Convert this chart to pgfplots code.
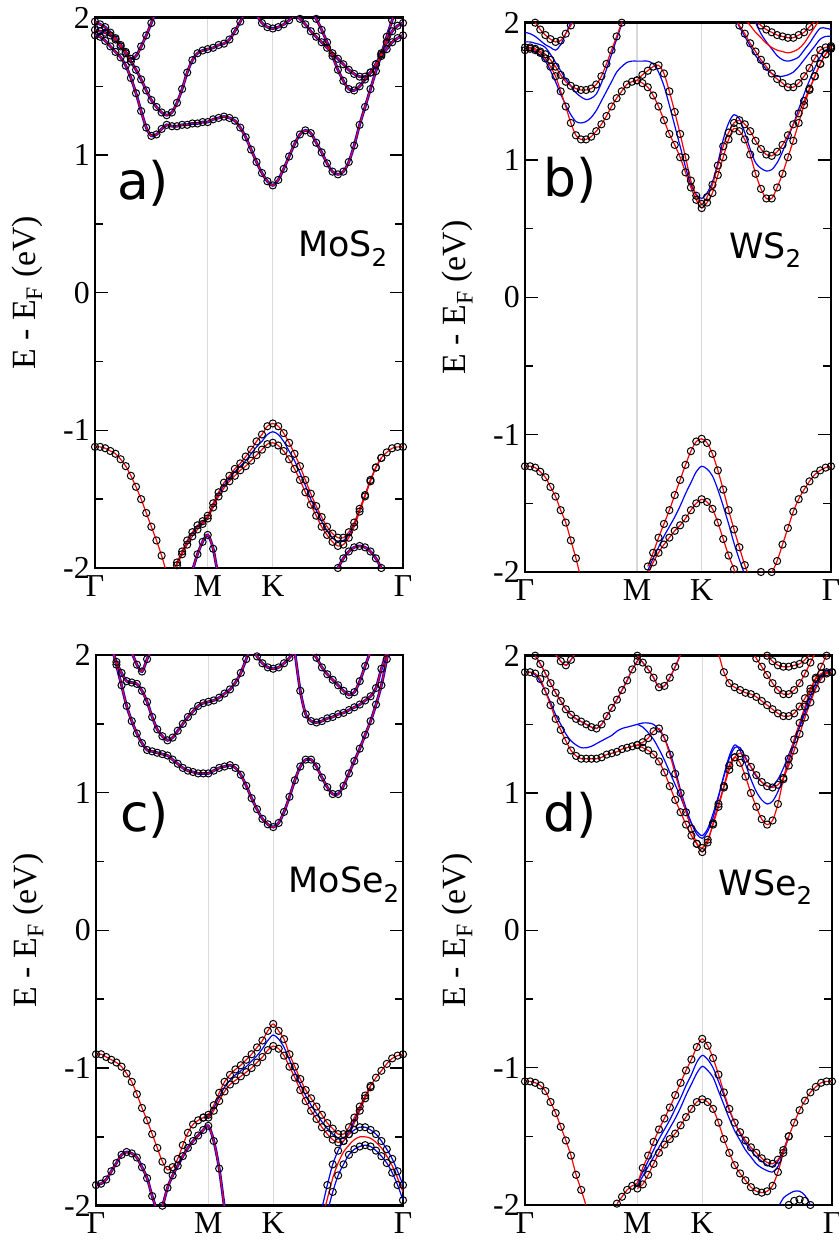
\documentclass[border=0pt]{standalone}
\usepackage{fontspec}
\setmainfont{Liberation Serif}
\newfontfamily\djv{DejaVu Sans}
\usepackage{pgfplots}
\usepackage{pgfplotstable}
\usetikzlibrary{calc}
\pgfplotsset{compat=1.18}

\pgfplotstableread{
f c1 c2 c3 c4 c5 c6 v1u v1d vb v3 v4
0.0000 1.87 1.91 1.97 nan nan nan -1.12 nan nan nan nan
0.0166 1.86 1.90 1.95 nan nan nan -1.12 nan nan nan nan
0.0333 1.83 1.89 1.93 nan nan nan -1.13 nan nan nan nan
0.0499 1.79 1.87 1.89 nan nan nan -1.15 nan nan nan nan
0.0665 1.75 1.84 1.85 nan nan nan -1.17 nan nan nan nan
0.0832 1.71 1.79 1.80 nan nan nan -1.21 nan nan nan nan
0.0998 1.65 1.74 1.75 nan nan nan -1.26 nan nan nan nan
0.1165 1.56 1.68 1.70 nan nan nan -1.33 nan nan nan nan
0.1331 1.45 1.62 1.72 nan nan nan -1.41 nan nan nan nan
0.1498 1.32 1.55 1.79 nan nan nan -1.50 nan nan nan nan
0.1664 1.20 1.47 1.87 nan nan nan -1.60 nan nan nan nan
0.1830 1.14 1.40 1.96 nan nan nan -1.70 nan nan nan nan
0.1996 1.15 1.35 2.05 nan nan nan -1.80 nan nan nan nan
0.2163 1.19 1.31 nan nan nan nan -1.91 nan nan nan nan
0.2329 1.22 1.29 nan nan nan nan -2.03 nan nan nan nan
0.2496 1.21 1.31 nan nan nan nan -2.06 nan nan nan nan
0.2662 1.21 1.38 nan nan nan nan -1.96 -1.98 -1.97 nan nan
0.2828 1.22 1.48 nan nan nan nan -1.88 -1.90 -1.89 nan nan
0.2994 1.22 1.60 nan nan nan nan -1.80 -1.83 -1.81 nan nan
0.3161 1.23 1.69 nan nan nan nan -1.74 -1.77 -1.75 -2.02 nan
0.3327 1.23 1.74 nan nan nan nan -1.69 -1.72 -1.70 -1.90 nan
0.3494 1.24 1.76 nan nan nan nan -1.66 -1.68 -1.67 -1.81 nan
0.3660 1.24 1.77 nan nan nan nan -1.62 -1.64 -1.63 -1.76 nan
0.3836 1.26 1.78 nan nan nan nan -1.53 -1.56 -1.54 -1.86 nan
0.4012 1.27 1.80 nan nan nan nan -1.45 -1.48 -1.46 -2.08 nan
0.4188 1.28 1.81 nan nan nan nan -1.38 -1.42 -1.40 nan nan
0.4364 1.27 1.84 nan nan nan nan -1.33 -1.37 -1.35 nan nan
0.4541 1.25 1.90 nan nan nan nan -1.28 -1.33 -1.30 nan nan
0.4717 1.20 1.97 nan nan nan nan -1.24 -1.29 -1.26 nan nan
0.4893 1.13 2.05 nan nan nan nan -1.19 -1.26 -1.22 nan nan
0.5069 1.04 2.15 nan 2.10 nan nan -1.14 -1.22 -1.17 nan nan
0.5245 0.95 nan nan 2.02 nan nan -1.08 -1.18 -1.12 nan nan
0.5421 0.87 nan nan 1.96 nan nan -1.03 -1.14 -1.08 nan nan
0.5597 0.81 nan nan 1.93 nan nan -0.97 -1.10 -1.03 nan nan
0.5773 0.78 nan nan 1.92 nan nan -0.95 -1.09 -1.01 nan nan
0.5949 0.82 nan nan 1.93 nan nan -0.97 -1.11 -1.03 nan nan
0.6125 0.90 nan nan 1.95 nan nan -1.02 -1.15 -1.08 nan nan
0.6302 0.99 nan nan 1.98 nan nan -1.09 -1.21 -1.15 nan nan
0.6478 1.08 nan nan 2.02 2.02 nan -1.17 -1.28 -1.22 nan nan
0.6654 1.15 nan nan 2.08 1.99 nan -1.26 -1.36 -1.31 nan nan
0.6830 1.18 nan nan nan 1.95 2.10 -1.36 -1.45 -1.40 nan nan
0.7006 1.16 nan nan nan 1.90 2.05 -1.46 -1.54 -1.50 nan nan
0.7182 1.09 nan nan nan 1.86 1.99 -1.55 -1.62 -1.58 nan nan
0.7359 1.02 nan nan nan 1.82 1.91 -1.63 -1.70 -1.66 nan nan
0.7535 0.94 nan nan nan 1.78 1.82 -1.70 -1.76 -1.73 nan nan
0.7711 0.88 nan nan nan 1.74 1.72 -1.75 -1.81 -1.78 nan nan
0.7887 0.86 nan nan nan 1.70 1.62 -1.78 -1.84 -1.81 nan -2.00
0.8063 0.88 nan nan nan 1.66 1.54 -1.78 -1.83 -1.80 nan -1.93
0.8239 0.95 nan nan nan 1.62 1.48 -1.74 -1.78 -1.76 nan -1.88
0.8415 1.07 nan nan nan 1.59 1.47 -1.67 -1.70 -1.68 nan -1.85
0.8591 1.22 nan nan nan 1.57 1.50 -1.57 -1.59 -1.58 nan -1.84
0.8768 1.35 nan nan nan 1.57 1.55 -1.47 -1.48 -1.47 nan -1.85
0.8944 1.48 nan nan nan 1.60 1.60 -1.36 -1.37 -1.36 nan -1.88
0.9120 1.61 nan nan nan 1.66 1.66 -1.27 -1.27 -1.27 nan -1.93
0.9296 1.73 nan nan nan 1.74 1.72 -1.20 -1.20 -1.20 nan -2.00
0.9472 1.86 nan nan nan 1.82 1.77 -1.16 nan nan nan nan
0.9648 1.98 nan nan nan 1.90 1.82 -1.13 nan nan nan nan
0.9824 2.10 nan nan nan 1.94 1.85 -1.12 nan nan nan nan
1.0000 2.20 nan nan nan 1.96 1.87 -1.12 nan nan nan nan
}\tA

\pgfplotstableread{
f c1 c1b c2 c3 c5 c6 c7 bc1 bc2 bc3 bc5 bc6 vu vd bvb
0.0000 1.80 nan 1.82 nan nan nan nan 1.80 1.86 1.93 nan nan -1.23 nan nan
0.0166 1.81 nan 1.82 nan nan nan nan 1.80 1.86 1.92 nan nan -1.23 nan nan
0.0333 1.80 nan 1.81 2.00 nan nan nan 1.79 1.85 1.90 nan nan -1.24 nan nan
0.0499 1.78 nan 1.79 1.95 nan nan nan 1.76 1.84 1.87 nan nan -1.27 nan nan
0.0665 1.74 nan 1.77 1.91 nan nan nan 1.72 1.82 1.84 nan nan -1.31 nan nan
0.0832 1.68 nan 1.73 1.88 nan nan nan 1.65 1.77 1.82 nan nan -1.38 nan nan
0.0998 1.61 nan 1.68 1.86 nan nan nan 1.57 1.71 1.80 nan nan -1.45 nan nan
0.1165 1.50 nan 1.62 1.87 nan nan nan 1.48 1.65 1.84 nan nan -1.55 nan nan
0.1331 1.39 nan 1.57 1.92 nan nan nan 1.40 1.59 1.92 nan nan -1.64 nan nan
0.1498 1.27 nan 1.54 1.98 nan nan nan 1.33 1.54 2.00 nan nan -1.77 nan nan
0.1664 1.18 nan 1.52 2.05 nan nan nan 1.28 1.49 2.08 nan nan -1.90 nan nan
0.1830 1.15 nan 1.51 nan nan nan nan 1.27 1.46 nan nan nan -2.05 nan nan
0.1996 1.15 nan 1.51 nan nan nan nan 1.28 1.44 nan nan nan nan nan nan
0.2163 1.17 nan 1.52 nan nan nan nan 1.31 1.45 nan nan nan nan nan nan
0.2329 1.21 nan 1.55 nan nan nan nan 1.36 1.48 nan nan nan nan nan nan
0.2496 1.26 nan 1.61 nan nan nan nan 1.43 1.56 nan nan nan nan nan nan
0.2662 1.32 nan 1.70 nan nan nan nan 1.50 1.66 nan nan nan nan nan nan
0.2828 1.39 nan 1.80 nan nan nan nan 1.57 1.77 nan nan nan nan nan nan
0.2994 1.45 nan 1.90 nan nan nan nan 1.64 1.88 nan nan nan nan nan nan
0.3161 1.50 nan 2.00 nan nan nan nan 1.68 1.99 nan nan nan nan nan nan
0.3327 1.55 nan 2.10 nan nan nan nan 1.71 2.10 nan nan nan nan nan nan
0.3494 1.57 nan nan nan nan nan nan 1.72 nan nan nan nan nan nan nan
0.3660 1.58 1.58 nan nan nan nan nan 1.72 nan nan nan nan nan nan nan
0.3836 1.56 1.62 nan nan nan nan nan 1.72 nan nan nan nan nan nan nan
0.4012 1.53 1.65 nan nan nan nan nan 1.72 nan nan nan nan -1.96 -2.02 -1.99
0.4188 1.47 1.68 nan nan nan nan nan 1.70 nan nan nan nan -1.86 -1.93 -1.90
0.4364 1.39 1.69 nan nan nan nan nan 1.64 nan nan nan nan -1.75 -1.86 -1.82
0.4541 1.29 1.63 nan nan nan nan nan 1.54 nan nan nan nan -1.65 -1.80 -1.74
0.4717 1.19 1.50 nan nan nan nan nan 1.40 nan nan nan nan -1.55 -1.75 -1.67
0.4893 1.11 1.35 nan nan nan nan nan 1.25 nan nan nan nan -1.44 -1.70 -1.60
0.5069 1.02 1.19 nan nan nan nan nan 1.10 nan nan nan nan -1.33 -1.66 -1.52
0.5245 0.91 1.02 nan nan nan nan nan 0.95 nan nan nan nan -1.22 -1.61 -1.43
0.5421 0.80 0.85 nan nan nan nan nan 0.82 nan nan nan nan -1.12 -1.55 -1.35
0.5597 0.71 0.74 nan nan nan nan nan 0.75 nan nan nan nan -1.05 -1.50 -1.27
0.5773 0.65 0.68 nan nan nan nan nan 0.72 nan nan nan nan -1.03 -1.47 -1.23
0.5949 0.69 0.73 nan nan nan nan nan 0.76 nan nan nan nan -1.06 -1.49 -1.25
0.6125 0.76 0.82 nan nan nan nan nan 0.84 nan nan nan nan -1.14 -1.54 -1.30
0.6302 0.89 0.96 nan nan nan nan nan 0.98 nan nan nan nan -1.26 -1.64 -1.40
0.6478 1.02 1.10 nan nan nan nan nan 1.15 nan nan nan nan -1.40 -1.76 -1.52
0.6654 1.15 1.20 nan nan nan nan nan 1.27 nan nan nan nan -1.55 -1.88 -1.65
0.6830 1.23 1.27 nan nan 2.05 nan nan 1.33 nan nan 2.05 nan -1.69 -1.98 -1.79
0.7006 1.21 1.29 nan nan 1.98 nan nan 1.30 nan nan 1.97 nan -1.82 -2.10 -1.91
0.7182 1.15 1.26 nan nan 1.92 nan 2.03 1.20 nan nan 1.90 nan -1.95 nan -2.02
0.7359 1.04 1.21 nan nan 1.85 nan 1.98 1.08 nan nan 1.83 nan -2.04 nan nan
0.7535 0.90 1.14 nan nan 1.79 2.02 1.93 0.98 nan nan 1.76 2.00 -2.03 nan nan
0.7711 0.79 1.08 nan nan 1.73 1.98 1.89 0.94 nan nan 1.71 1.92 -2.00 nan nan
0.7887 0.72 1.04 nan nan 1.68 1.95 1.85 0.92 nan nan 1.66 1.86 -2.01 nan nan
0.8063 0.72 1.03 nan nan 1.63 1.93 1.82 0.93 nan nan 1.63 1.81 -2.00 nan nan
0.8239 0.80 1.06 nan nan 1.59 1.91 1.80 0.98 nan nan 1.61 1.76 -1.92 nan nan
0.8415 0.90 1.11 nan nan 1.56 1.90 1.79 1.06 nan nan 1.61 1.73 -1.80 nan nan
0.8591 1.02 1.18 nan nan 1.53 1.89 1.78 1.16 nan nan 1.62 1.72 -1.68 nan nan
0.8768 1.14 1.26 nan nan 1.53 1.89 1.79 1.26 nan nan 1.64 1.73 -1.56 nan nan
0.8944 1.27 1.34 nan nan 1.56 1.91 1.81 1.37 nan nan 1.68 1.75 -1.47 nan nan
0.9120 1.40 1.43 nan nan 1.61 1.93 1.85 1.48 nan nan 1.73 1.80 -1.40 nan nan
0.9296 1.51 1.52 nan nan 1.67 1.97 1.91 1.58 nan nan 1.78 1.85 -1.34 nan nan
0.9472 1.61 1.61 nan nan 1.74 2.01 1.97 1.67 nan nan 1.83 1.91 -1.29 nan nan
0.9648 1.70 1.70 nan nan 1.80 2.05 2.03 1.75 nan nan 1.88 1.96 -1.26 nan nan
0.9824 1.77 1.77 nan nan 1.82 nan nan 1.80 nan nan 1.90 1.96 -1.24 nan nan
1.0000 1.81 1.82 nan nan 1.83 nan nan 1.82 nan nan 1.90 1.95 -1.23 nan nan
}\tB

\pgfplotstableread{
f c1 c2 c3 c4 c5 c6 v1u v1d vb v2 v4u v4d v4m
0.0000 nan nan nan nan nan nan -0.90 nan nan -1.85 nan nan nan
0.0166 nan nan nan nan nan nan -0.90 nan nan -1.84 nan nan nan
0.0333 nan nan nan nan nan nan -0.92 nan nan -1.81 nan nan nan
0.0499 2.08 2.05 nan nan nan nan -0.94 nan nan -1.75 nan nan nan
0.0665 1.93 1.95 nan nan nan nan -0.96 nan nan -1.69 nan nan nan
0.0832 1.78 1.87 nan nan nan nan -0.99 nan nan -1.63 nan nan nan
0.0998 1.63 1.81 nan nan nan nan -1.04 nan nan -1.61 nan nan nan
0.1165 1.52 1.80 2.02 nan nan nan -1.10 nan nan -1.62 nan nan nan
0.1331 1.43 1.79 1.93 nan nan nan -1.19 nan nan -1.65 nan nan nan
0.1498 1.36 1.74 1.88 nan nan nan -1.29 nan nan -1.72 nan nan nan
0.1664 1.31 1.66 1.97 nan nan nan -1.38 nan nan -1.80 nan nan nan
0.1830 1.30 1.55 2.05 nan nan nan -1.48 nan nan -1.93 nan nan nan
0.1996 1.29 1.46 nan nan nan nan -1.58 nan nan -2.03 nan nan nan
0.2163 1.28 1.41 nan nan nan nan -1.68 nan nan -2.00 nan nan nan
0.2329 1.27 1.38 nan nan nan nan -1.74 nan nan -1.87 nan nan nan
0.2496 1.24 1.40 nan nan nan nan -1.72 nan nan -1.78 nan nan nan
0.2662 1.21 1.45 nan nan nan nan -1.66 nan nan -1.71 nan nan nan
0.2828 1.18 1.50 nan nan nan nan -1.56 nan nan -1.64 nan nan nan
0.2994 1.16 1.55 nan nan nan nan -1.47 nan nan -1.58 nan nan nan
0.3161 1.15 1.59 nan nan nan nan -1.41 nan nan -1.53 nan nan nan
0.3327 1.14 1.63 nan nan nan nan -1.38 nan nan -1.49 nan nan nan
0.3494 1.14 1.65 nan nan nan nan -1.36 -1.36 -1.36 -1.45 nan nan nan
0.3660 1.14 1.66 nan nan nan nan -1.34 -1.36 -1.35 -1.42 nan nan nan
0.3836 1.16 1.67 nan nan nan nan -1.27 -1.31 -1.29 -1.53 nan nan nan
0.4012 1.18 1.69 nan nan nan nan -1.18 -1.24 -1.21 -1.73 nan nan nan
0.4188 1.19 1.72 nan nan nan nan -1.10 -1.17 -1.14 -2.02 nan nan nan
0.4364 1.20 1.75 nan nan nan nan -1.05 -1.12 -1.09 -2.30 nan nan nan
0.4541 1.18 1.80 nan nan nan nan -1.01 -1.09 -1.05 nan nan nan nan
0.4717 1.13 1.87 nan nan nan nan -0.98 -1.06 -1.02 nan nan nan nan
0.4893 1.05 1.97 nan nan nan nan -0.94 -1.03 -0.99 nan nan nan nan
0.5069 0.96 2.08 nan 2.05 nan nan -0.90 -1.00 -0.95 nan nan nan nan
0.5245 0.88 nan nan 1.99 nan nan -0.85 -0.96 -0.91 nan nan nan nan
0.5421 0.81 nan nan 1.94 nan nan -0.80 -0.92 -0.86 nan nan nan nan
0.5597 0.77 nan nan 1.91 nan nan -0.73 -0.87 -0.80 nan nan nan nan
0.5773 0.75 nan nan 1.90 nan nan -0.68 -0.84 -0.76 nan nan nan nan
0.5949 0.78 nan nan 1.91 nan nan -0.73 -0.86 -0.79 nan nan nan nan
0.6125 0.86 nan nan 1.94 nan nan -0.79 -0.91 -0.85 nan nan nan nan
0.6302 0.97 nan nan 1.98 nan nan -0.90 -0.99 -0.94 nan nan nan nan
0.6478 1.09 nan nan 2.03 2.02 nan -0.99 -1.07 -1.03 nan nan nan nan
0.6654 1.19 nan nan nan 1.74 nan -1.08 -1.16 -1.12 nan nan nan nan
0.6830 1.24 nan nan nan 1.57 nan -1.16 -1.24 -1.20 nan nan nan nan
0.7006 1.24 nan nan nan 1.52 2.03 -1.22 -1.31 -1.27 nan nan nan nan
0.7182 1.19 nan nan nan 1.51 1.98 -1.28 -1.37 -1.33 nan nan nan nan
0.7359 1.11 nan nan nan 1.52 1.91 -1.34 -1.43 -1.39 nan -2.02 nan -2.10
0.7535 1.04 nan nan nan 1.54 1.86 -1.40 -1.48 -1.44 nan -1.85 -2.05 -1.95
0.7711 0.99 nan nan nan 1.55 1.82 -1.44 -1.52 -1.48 nan -1.70 -1.90 -1.80
0.7887 0.99 nan nan nan 1.57 1.78 -1.48 -1.54 -1.51 nan -1.60 -1.78 -1.69
0.8063 1.05 nan nan nan 1.58 1.74 -1.48 -1.53 -1.51 nan -1.53 -1.70 -1.61
0.8239 1.14 nan nan nan 1.60 1.71 -1.43 -1.48 -1.46 nan -1.48 -1.63 -1.56
0.8415 1.23 nan nan nan 1.62 1.73 -1.36 -1.40 -1.38 nan -1.45 -1.59 -1.52
0.8591 1.32 nan nan nan 1.64 1.81 -1.28 -1.31 -1.30 nan -1.43 -1.57 -1.50
0.8768 1.42 nan nan nan 1.67 1.92 -1.20 -1.22 -1.21 nan -1.43 -1.56 -1.50
0.8944 1.52 nan nan nan 1.70 2.03 -1.13 -1.14 -1.13 nan -1.45 -1.57 -1.51
0.9120 1.64 nan nan nan 1.76 nan -1.07 nan nan nan -1.48 -1.60 -1.54
0.9296 1.78 nan nan nan 1.90 nan -1.02 nan nan nan -1.53 -1.64 -1.58
0.9472 1.97 nan nan nan 2.02 nan -0.97 nan nan nan -1.59 -1.69 -1.64
0.9648 2.15 nan nan nan nan nan -0.93 nan nan nan -1.66 -1.76 -1.71
0.9824 nan nan nan nan nan nan -0.91 nan nan nan -1.75 -1.85 -1.80
1.0000 nan nan nan nan nan nan -0.90 nan nan nan -1.85 -1.96 -1.90
}\tC

\pgfplotstableread{
f c1 c1b c2 c3 c4 c5 c6 c7 bc1 bc1b vu vd bvu bvd bv5 cv5
0.0000 1.88 nan nan nan nan nan nan nan 1.88 nan -1.10 nan nan nan nan nan
0.0166 1.88 nan nan nan nan nan nan nan 1.88 nan -1.10 nan nan nan nan nan
0.0333 1.87 nan 2.00 nan nan nan nan nan 1.86 nan -1.11 nan nan nan nan nan
0.0499 1.83 nan 1.94 nan nan nan nan nan 1.81 nan -1.13 nan nan nan nan nan
0.0665 1.74 nan 1.87 nan nan nan nan nan 1.74 nan -1.17 nan nan nan nan nan
0.0832 1.64 nan 1.80 nan nan nan nan nan 1.66 nan -1.25 nan nan nan nan nan
0.0998 1.54 nan 1.73 2.01 nan nan nan nan 1.57 nan -1.33 nan nan nan nan nan
0.1165 1.46 nan 1.67 1.96 nan nan nan nan 1.50 nan -1.43 nan nan nan nan nan
0.1331 1.38 nan 1.61 1.93 nan nan nan nan 1.43 nan -1.53 nan nan nan nan nan
0.1498 1.31 nan 1.57 1.97 nan nan nan nan 1.38 nan -1.64 nan nan nan nan nan
0.1664 1.27 nan 1.54 2.03 nan nan nan nan 1.35 nan -1.78 nan nan nan nan nan
0.1830 1.25 nan 1.52 nan nan nan nan nan 1.33 nan -1.89 nan nan nan nan nan
0.1996 1.25 nan 1.50 nan nan nan nan nan 1.33 nan -2.01 nan nan nan nan nan
0.2163 1.25 nan 1.48 nan nan nan nan nan 1.34 nan -2.15 nan nan nan nan nan
0.2329 1.25 nan 1.47 nan nan nan nan nan 1.36 nan nan nan nan nan nan nan
0.2496 1.26 nan 1.50 nan nan nan nan nan 1.38 nan nan nan nan nan nan nan
0.2662 1.28 nan 1.56 nan nan nan nan nan 1.40 nan nan nan nan nan nan nan
0.2828 1.29 nan 1.62 nan nan nan nan nan 1.42 nan nan nan nan nan nan nan
0.2994 1.30 nan 1.68 nan nan nan nan nan 1.45 nan -1.99 nan nan nan nan nan
0.3161 1.32 nan 1.75 nan nan nan nan nan 1.47 nan -1.94 nan nan nan nan nan
0.3327 1.33 nan 1.82 nan nan nan nan nan 1.48 nan -1.89 nan nan nan nan nan
0.3494 1.34 nan 1.90 nan nan nan nan nan 1.49 nan -1.86 nan nan nan nan nan
0.3660 1.35 1.35 1.96 nan 2.00 nan nan nan 1.50 1.50 -1.84 -1.88 -1.84 -1.86 nan nan
0.3836 1.37 1.33 2.02 nan 1.95 nan nan nan 1.51 1.48 -1.73 -1.85 -1.76 -1.79 nan nan
0.4012 1.40 1.31 nan nan 1.90 nan nan nan 1.51 1.44 -1.64 -1.78 -1.68 -1.72 nan nan
0.4188 1.45 1.28 nan nan 1.84 nan nan nan 1.50 1.39 -1.54 -1.70 -1.60 -1.65 nan nan
0.4364 1.47 1.23 nan nan 1.77 nan nan nan 1.46 1.32 -1.45 -1.62 -1.52 -1.58 nan nan
0.4541 1.40 1.15 nan nan 1.78 nan nan nan 1.40 1.24 -1.37 -1.56 -1.45 -1.51 nan nan
0.4717 1.28 1.05 nan nan 1.84 nan nan nan 1.30 1.15 -1.29 -1.52 -1.38 -1.44 nan nan
0.4893 1.14 0.95 nan nan 1.92 nan nan nan 1.17 1.06 -1.20 -1.48 -1.30 -1.37 nan nan
0.5069 1.00 0.86 nan nan 2.01 nan nan nan 1.02 0.97 -1.11 -1.42 -1.22 -1.29 nan nan
0.5245 0.86 0.77 nan nan nan nan nan nan 0.89 0.87 -1.02 -1.36 -1.13 -1.20 nan nan
0.5421 0.74 0.69 nan nan nan nan nan nan 0.78 0.78 -0.94 -1.30 -1.05 -1.12 nan nan
0.5597 0.63 0.63 nan nan nan nan nan nan 0.70 0.72 -0.85 -1.25 -0.96 -1.04 nan nan
0.5773 0.57 0.60 nan nan nan nan nan nan 0.67 0.69 -0.79 -1.23 -0.91 -0.99 nan nan
0.5949 0.64 0.66 nan nan nan nan nan nan 0.72 0.74 -0.84 -1.25 -0.94 -1.02 nan nan
0.6125 0.78 0.77 nan nan nan nan nan nan 0.82 0.85 -0.93 -1.30 -1.00 -1.07 nan nan
0.6302 0.92 0.90 nan nan nan 2.02 nan nan 0.97 0.98 -1.05 -1.40 -1.10 -1.17 nan nan
0.6478 1.05 1.04 nan nan nan 1.88 nan nan 1.13 1.12 -1.18 -1.52 -1.20 -1.27 nan nan
0.6654 1.20 1.17 nan nan nan 1.80 nan nan 1.27 1.25 -1.30 -1.62 -1.31 -1.37 nan nan
0.6830 1.26 1.26 nan nan nan 1.77 nan nan 1.35 1.33 -1.40 -1.71 -1.40 -1.46 nan nan
0.7006 1.22 1.29 nan nan nan 1.75 nan nan 1.31 1.33 -1.47 -1.77 -1.48 -1.53 nan nan
0.7182 1.12 1.25 nan nan nan 1.73 nan nan 1.21 1.26 -1.53 -1.82 -1.55 -1.60 nan nan
0.7359 1.00 1.19 nan nan nan 1.72 2.05 nan 1.10 1.19 -1.58 -1.87 -1.60 -1.65 nan nan
0.7535 0.90 1.13 nan nan nan 1.70 1.98 nan 1.01 1.12 -1.62 -1.90 -1.65 -1.70 nan nan
0.7711 0.81 1.08 nan nan nan 1.67 1.92 2.05 0.95 1.08 -1.66 -1.91 -1.68 -1.73 nan nan
0.7887 0.77 1.05 nan nan nan 1.64 1.86 2.00 0.92 1.05 -1.69 -1.90 -1.71 -1.75 nan nan
0.8063 0.80 1.04 nan nan nan 1.61 1.80 1.96 0.94 1.05 -1.70 -1.86 -1.72 -1.76 nan nan
0.8239 0.92 1.06 nan nan nan 1.58 1.75 1.93 1.01 1.10 -1.67 -1.76 -1.68 -1.72 -2.02 nan
0.8415 1.10 1.11 nan nan nan 1.56 1.72 1.92 1.11 1.18 -1.60 -1.62 -1.60 -1.62 -1.95 nan
0.8591 1.25 1.20 nan nan nan 1.56 1.72 1.92 1.23 1.28 -1.50 -1.50 -1.50 -1.50 -1.92 -2.00
0.8768 1.39 1.31 nan nan nan 1.58 1.75 1.93 1.36 1.38 -1.40 nan nan nan -1.90 -1.97
0.8944 1.51 1.43 nan nan nan 1.63 1.80 1.94 1.49 1.48 -1.31 nan nan nan -1.90 -1.96
0.9120 1.63 1.55 nan nan nan 1.69 1.87 1.97 1.61 1.58 -1.24 nan nan nan -1.93 -1.97
0.9296 1.74 1.66 nan nan nan 1.76 1.95 2.02 1.71 1.68 -1.18 nan nan nan -2.00 -2.00
0.9472 1.83 1.76 nan nan nan 1.84 2.03 nan 1.80 1.77 -1.14 nan nan nan nan nan
0.9648 1.87 1.83 nan nan nan 1.92 nan nan 1.86 1.85 -1.11 nan nan nan nan nan
0.9824 1.88 1.87 nan nan nan 2.00 nan nan 1.89 1.88 -1.10 nan nan nan nan nan
1.0000 1.88 1.88 nan nan nan 2.05 nan nan 1.90 1.90 -1.10 nan nan nan nan nan
}\tD

\pgfplotsset{
  circ/.style={only marks, mark=o, mark size=3.6, mark options={line width=1bp, draw=black, solid}},
  rd/.style={no markers, smooth, color=red, line width=1.2bp},
  bl/.style={no markers, smooth, color=blue, line width=1.2bp},
  blh/.style={no markers, smooth, color=blue, line width=2.8bp},
  panel/.style={
    scale only axis, anchor=south west,
    xmin=0, xmax=1, ymin=-2, ymax=2,
    unbounded coords=jump,
    axis line style={line width=2.5bp, black},
    xtick={0,0.366,0.5773,1},
    xticklabels={Γ,M,K,Γ},
    xmajorgrids=true,
    major grid style={draw=black!15, line width=1.3bp},
    ytick={-2,-1,0,1,2},
    yticklabels={-2,-1,0,1,2},
    major tick length=0pt,
    minor tick length=0pt,
    tick label style={font=\fontsize{32}{36}\selectfont},
    yticklabel style={inner sep=0pt, xshift=-5bp},
    xticklabel style={inner sep=0pt, yshift=-7bp},
    ylabel={E - E\textsubscript{F} (eV)},
    ylabel style={at={(axis description cs:-0.221,0.5)}, anchor=center, font=\fontsize{34}{40}\selectfont},
  }
}
\newcommand\C[2]{\addplot[circ] table[x=f,y=#2]{#1};}
\newcommand\R[2]{\addplot[rd] table[x=f,y=#2]{#1};}
\newcommand\B[2]{\addplot[bl] table[x=f,y=#2]{#1};}
\newcommand\BH[2]{\addplot[blh] table[x=f,y=#2]{#1};}

\begin{document}
\begin{tikzpicture}
\path[use as bounding box] (0bp,0bp) rectangle (839bp,1241bp);

% a) MoS2
\begin{axis}[panel, name=pa, at={(95bp,673bp)}, width=308bp, height=550.5bp]
\C\tA{c1}\C\tA{c2}\C\tA{c3}\C\tA{c4}\C\tA{c5}\C\tA{c6}\C\tA{v1u}\C\tA{v1d}\C\tA{v3}\C\tA{v4}
\BH\tA{c1}\BH\tA{c2}\BH\tA{c3}\BH\tA{c4}\BH\tA{c5}\BH\tA{c6}\BH\tA{v3}\BH\tA{v4}\B\tA{vb}
\R\tA{c1}\R\tA{c2}\R\tA{c3}\R\tA{c4}\R\tA{c5}\R\tA{c6}\R\tA{v1u}\R\tA{v1d}\R\tA{v3}\R\tA{v4}
\node[anchor=base west, inner sep=0pt, font=\djv\fontsize{52}{60}\selectfont] at (axis cs:0.071,0.674) {a)};
\node[anchor=base east, inner sep=0pt, font=\djv\fontsize{35}{40}\selectfont] at (axis cs:0.951,0.26) {MoS\textsubscript{2}};
\end{axis}

% b) WS2
\begin{axis}[panel, name=pb, at={(525bp,669bp)}, width=306bp, height=549.3bp]
\C\tB{c1}\C\tB{c1b}\C\tB{c2}\C\tB{c3}\C\tB{c5}\C\tB{c6}\C\tB{vu}\C\tB{vd}
\B\tB{bc1}\B\tB{bc2}\B\tB{bc3}\B\tB{bc5}\B\tB{bc6}\B\tB{bvb}
\R\tB{c1}\R\tB{c1b}\R\tB{c2}\R\tB{c3}\R\tB{c5}\R\tB{c6}\R\tB{c7}\R\tB{vu}\R\tB{vd}
\node[anchor=base west, inner sep=0pt, font=\djv\fontsize{52}{60}\selectfont] at (axis cs:0.059,0.733) {b)};
\node[anchor=base east, inner sep=0pt, font=\djv\fontsize{35}{40}\selectfont] at (axis cs:0.905,0.286) {WS\textsubscript{2}};
\end{axis}

% c) MoSe2
\begin{axis}[panel, name=pc, at={(96bp,35.3bp)}, width=307bp, height=550.7bp]
\C\tC{c1}\C\tC{c2}\C\tC{c3}\C\tC{c4}\C\tC{c5}\C\tC{c6}\C\tC{v1u}\C\tC{v1d}\C\tC{v2}\C\tC{v4u}\C\tC{v4d}
\BH\tC{c1}\BH\tC{c2}\BH\tC{c3}\BH\tC{c4}\BH\tC{c5}\BH\tC{c6}\BH\tC{v2}\B\tC{vb}\B\tC{v4u}\B\tC{v4d}
\R\tC{c1}\R\tC{c2}\R\tC{c3}\R\tC{c4}\R\tC{c5}\R\tC{c6}\R\tC{v1u}\R\tC{v1d}\R\tC{v2}\R\tC{v4m}
\node[anchor=base west, inner sep=0pt, font=\djv\fontsize{52}{60}\selectfont] at (axis cs:0.078,0.717) {c)};
\node[anchor=base east, inner sep=0pt, font=\djv\fontsize{35}{40}\selectfont] at (axis cs:0.99,0.272) {MoSe\textsubscript{2}};
\end{axis}

% d) WSe2
\begin{axis}[panel, name=pd, at={(525bp,36bp)}, width=307bp, height=549.3bp]
\C\tD{c1}\C\tD{c1b}\C\tD{c2}\C\tD{c3}\C\tD{c4}\C\tD{c5}\C\tD{c6}\C\tD{c7}\C\tD{vu}\C\tD{vd}\C\tD{cv5}
\B\tD{bc1}\B\tD{bc1b}\B\tD{bvu}\B\tD{bvd}\B\tD{bv5}\B\tD{c2}\B\tD{c3}\B\tD{c4}
\R\tD{c1}\R\tD{c1b}\R\tD{c2}\R\tD{c3}\R\tD{c4}\R\tD{c5}\R\tD{c6}\R\tD{c7}\R\tD{vu}\R\tD{vd}
\node[anchor=base west, inner sep=0pt, font=\djv\fontsize{52}{60}\selectfont] at (axis cs:0.059,0.718) {d)};
\node[anchor=base east, inner sep=0pt, font=\djv\fontsize{35}{40}\selectfont] at (axis cs:0.938,0.257) {WSe\textsubscript{2}};
\end{axis}

% inward y ticks on both sides of every panel
\foreach \a in {pa,pb,pc,pd}{
  \foreach \f/\l in {0.125/8bp,0.25/13bp,0.375/8bp,0.5/13bp,0.625/8bp,0.75/13bp,0.875/8bp}{
    \draw[line width=1.5bp, black] ($(\a.south west)!\f!(\a.north west)$) -- ++(\l,0pt);
    \draw[line width=1.5bp, black] ($(\a.south east)!\f!(\a.north east)$) -- ++(-\l,0pt);
  }
}
\end{tikzpicture}
\end{document}
